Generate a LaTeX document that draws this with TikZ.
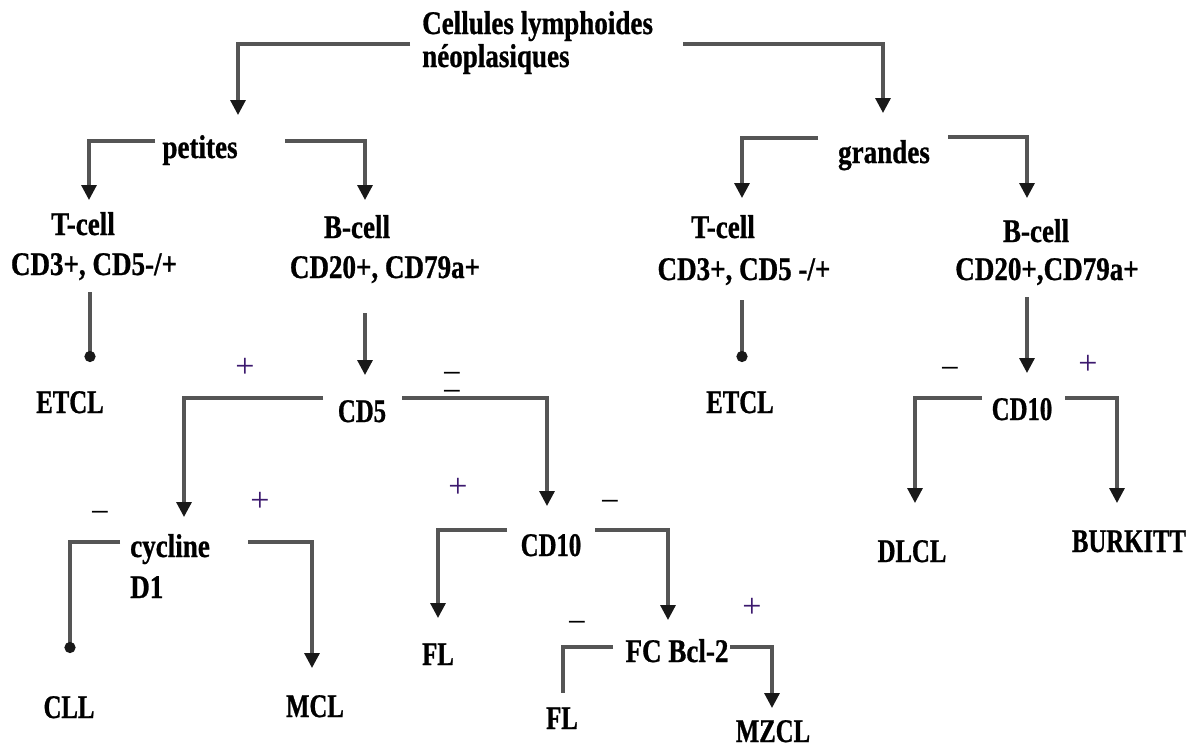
\documentclass[tikz,border=0pt]{standalone}
\usepackage{fontspec}
\setmainfont{Liberation Serif}
\newfontfamily\labfont{Liberation Serif}[FakeStretch=0.82,FakeBold=0.8]
\newfontfamily\capfont{Liberation Serif}[FakeStretch=0.75,FakeBold=0.8]
\usetikzlibrary{arrows.meta}
\definecolor{linecol}{RGB}{85,85,85}
\definecolor{pluscol}{RGB}{60,25,110}
\tikzset{
  lab/.style={font=\labfont\bfseries\fontsize{33}{33}\selectfont, inner sep=0pt, anchor=base},
  caplab/.style={font=\capfont\bfseries\fontsize{33}{33}\selectfont, inner sep=0pt, anchor=base},
  sgn/.style={font=\fontsize{34}{34}\selectfont, inner sep=0pt},
  plus/.style={sgn, text=pluscol},
  minus/.style={sgn, text=black},
  conn/.style={draw=linecol, line width=3.2pt},
  arr/.style={conn, -{Triangle[width=15pt,length=15pt,color=black!90]}},
  dotend/.style={conn, -{Circle[length=11pt,color=black!90]}}
}
\begin{document}
\begin{tikzpicture}[x=1pt,y=-1pt]
\useasboundingbox (0,0) rectangle (1200,747);
% texts
\node[lab, anchor=base west, align=left] (title) at (422,67) {Cellules lymphoides\\n\'eoplasiques};
\node[lab] (petites) at (200,158) {petites};
\node[lab] (grandes) at (884,163) {grandes};
\node[lab] (tcL) at (83,235) {T-cell};
\node[lab] (tcLm) at (94,275) {CD3+, CD5-/+};
\node[lab] (bcL) at (357,238) {B-cell};
\node[lab] (bcLm) at (385,278) {CD20+, CD79a+};
\node[lab] (tcR) at (723,238) {T-cell};
\node[lab] (tcRm) at (744,280) {CD3+, CD5 -/+};
\node[lab] (bcR) at (1036,242) {B-cell};
\node[lab] (bcRm) at (1047,280) {CD20+,CD79a+};
\node[caplab] (etclL) at (70,413) {ETCL};
\node[caplab] (etclR) at (740,413) {ETCL};
\node[caplab] (cd5) at (362,422) {CD5};
\node[caplab] (cd10R) at (1022,420) {CD10};
\node[lab, anchor=base west, align=left, font=\labfont\bfseries\fontsize{33}{41}\selectfont] (cyc) at (130,598) {cycline\\D1};
\node[caplab] (cd10M) at (551,556) {CD10};
\node[caplab] (fl1) at (438,665) {FL};
\node[lab] (fc) at (677,662) {FC Bcl-2};
\node[caplab] (fl2) at (562,729) {FL};
\node[caplab] (mzcl) at (773,742) {MZCL};
\node[caplab] (cll) at (69,718) {CLL};
\node[caplab] (mcl) at (315,717) {MCL};
\node[caplab] (dlcl) at (912,562) {DLCL};
\node[caplab] (burkitt) at (1129,552) {BURKITT};
% signs
\node[plus] (s1) at (245,368) {+};
\node[minus] (s2) at (452,378) {−};
\node[minus] (s3) at (452,396) {−};
\node[minus] (s4) at (100,517) {−};
\node[plus] (s5) at (260,502) {+};
\node[plus] (s6) at (458,488) {+};
\node[minus] (s7) at (610,506) {−};
\node[minus] (s8) at (577,627) {−};
\node[plus] (s9) at (752,608) {+};
\node[minus] (s10) at (950,373) {−};
\node[plus] (s11) at (1088,365) {+};
% connector end points
\coordinate (a1s) at (410,44); \coordinate (a1e) at (238,115);
\coordinate (a2s) at (683,44); \coordinate (a2e) at (883,113);
\coordinate (a3s) at (155,141); \coordinate (a3e) at (89,200);
\coordinate (a4s) at (285,141); \coordinate (a4e) at (365,200);
\coordinate (a5s) at (818,138); \coordinate (a5e) at (742,198);
\coordinate (a6s) at (948,137); \coordinate (a6e) at (1027,198);
\coordinate (a7s) at (90,292); \coordinate (a7e) at (90,362);
\coordinate (a8s) at (365,313); \coordinate (a8e) at (365,375);
\coordinate (a9s) at (742,300); \coordinate (a9e) at (742,362);
\coordinate (a10s) at (1027,297); \coordinate (a10e) at (1027,373);
\coordinate (a11s) at (323,398); \coordinate (a11e) at (184,517);
\coordinate (a12s) at (402,398); \coordinate (a12e) at (547,506);
\coordinate (a13s) at (120,542); \coordinate (a13e) at (70,653);
\coordinate (a14s) at (248,542); \coordinate (a14e) at (312,668);
\coordinate (a15s) at (507,530); \coordinate (a15e) at (438,618);
\coordinate (a16s) at (595,530); \coordinate (a16e) at (668,620);
\coordinate (a17s) at (613,647); \coordinate (a17e) at (563,693);
\coordinate (a18s) at (730,647); \coordinate (a18e) at (772,708);
\coordinate (a19s) at (982,398); \coordinate (a19e) at (915,503);
\coordinate (a20s) at (1065,398); \coordinate (a20e) at (1117,503);
% connectors
\draw[arr] (a1s) -| (a1e);
\draw[arr] (a2s) -| (a2e);
\draw[arr] (a3s) -| (a3e);
\draw[arr] (a4s) -| (a4e);
\draw[arr] (a5s) -| (a5e);
\draw[arr] (a6s) -| (a6e);
\draw[dotend] (a7s) -- (a7e);
\draw[arr] (a8s) -- (a8e);
\draw[dotend] (a9s) -- (a9e);
\draw[arr] (a10s) -- (a10e);
\draw[arr] (a11s) -| (a11e);
\draw[arr] (a12s) -| (a12e);
\draw[dotend] (a13s) -| (a13e);
\draw[arr] (a14s) -| (a14e);
\draw[arr] (a15s) -| (a15e);
\draw[arr] (a16s) -| (a16e);
\draw[conn] (a17s) -| (a17e);
\draw[arr] (a18s) -| (a18e);
\draw[arr] (a19s) -| (a19e);
\draw[arr] (a20s) -| (a20e);
\end{tikzpicture}
\end{document}
